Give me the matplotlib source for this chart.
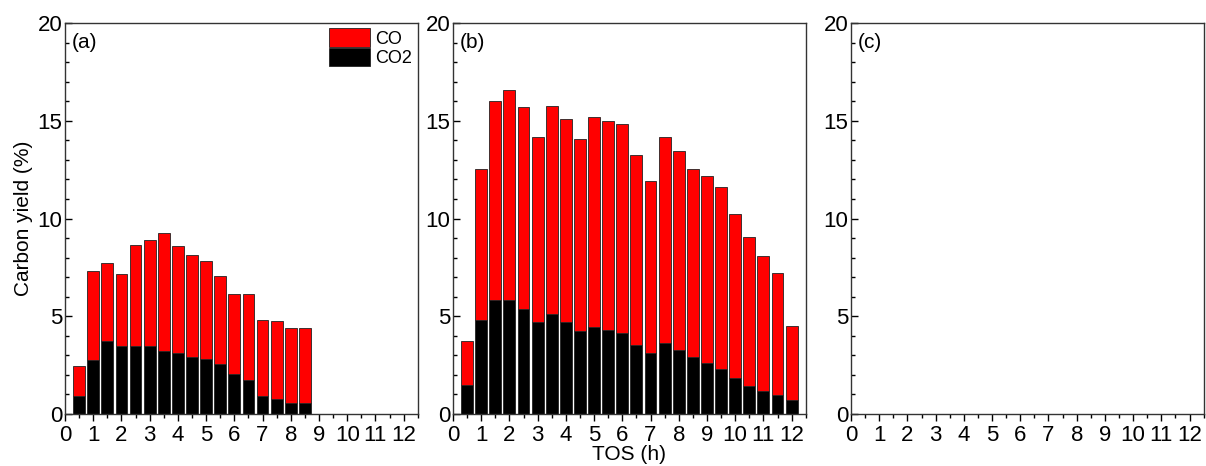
import matplotlib
matplotlib.use("Agg")
import numpy as np
import matplotlib.pyplot as plt
from matplotlib.ticker import MultipleLocator

plt.rcParams['font.family'] = ['Liberation Sans', 'DejaVu Sans']

# TOS (h) for each bar
tos_a = [0.5, 1.0, 1.5, 2.0, 2.5, 3.0, 3.5, 4.0, 4.5, 5.0, 5.5, 6.0, 6.5, 7.0, 7.5, 8.0, 8.5]
co2_a = [0.90, 2.78, 3.72, 3.46, 3.46, 3.46, 3.24, 3.14, 2.93, 2.83, 2.54, 2.03, 1.72, 0.90, 0.77, 0.56, 0.56]
total_a = [2.47, 7.30, 7.71, 7.14, 8.63, 8.92, 9.28, 8.59, 8.15, 7.81, 7.06, 6.12, 6.14, 4.79, 4.74, 4.42, 4.42]

tos_b = [0.5, 1.0, 1.5, 2.0, 2.5, 3.0, 3.5, 4.0, 4.5, 5.0, 5.5, 6.0,
         6.5, 7.0, 7.5, 8.0, 8.5, 9.0, 9.5, 10.0, 10.5, 11.0, 11.5, 12.0]
co2_b = [1.47, 4.79, 5.81, 5.85, 5.37, 4.71, 5.12, 4.71, 4.26, 4.45, 4.28, 4.13,
         3.55, 3.12, 3.61, 3.27, 2.92, 2.59, 2.28, 1.82, 1.45, 1.18, 0.99, 0.73]
total_b = [3.73, 12.53, 16.03, 16.59, 15.69, 14.19, 15.77, 15.09, 14.05, 15.17, 15.00, 14.83,
           13.23, 11.92, 14.15, 13.45, 12.53, 12.16, 11.63, 10.25, 9.04, 8.10, 7.23, 4.48]

# panel (c) is empty in the source figure
tos_c = []
co2_c = []
total_c = []

panels = [("(a)", tos_a, co2_a, total_a),
          ("(b)", tos_b, co2_b, total_b),
          ("(c)", tos_c, co2_c, total_c)]

fig = plt.figure(figsize=(12.06, 4.66), dpi=100)
lefts = [0.0539, 0.3756, 0.7056]
width = 0.2925
axes = []
for left in lefts:
    axes.append(fig.add_axes([left, 0.1116, width, 0.839]))

bar_w = 0.42
for ax, (tag, tos, co2, total) in zip(axes, panels):
    tos = np.array(tos)
    co2 = np.array(co2)
    co = np.array(total) - co2
    if len(tos):
        ax.bar(tos, co2, width=bar_w, color='black', edgecolor='#222222', linewidth=0.6, label='CO2')
        ax.bar(tos, co, width=bar_w, bottom=co2, color='#ff0000', edgecolor='#222222', linewidth=0.6, label='CO')
    ax.set_xlim(0, 12.5)
    ax.set_ylim(0, 20)
    ax.xaxis.set_major_locator(MultipleLocator(1))
    ax.xaxis.set_minor_locator(MultipleLocator(0.5))
    ax.yaxis.set_major_locator(MultipleLocator(5))
    ax.yaxis.set_minor_locator(MultipleLocator(1))
    ax.tick_params(axis='x', which='major', direction='out', length=5, width=1, labelsize=16, pad=3)
    ax.tick_params(axis='x', which='minor', direction='out', length=3, width=1)
    ax.tick_params(axis='y', which='major', direction='in', length=5, width=1, labelsize=16, pad=2)
    ax.tick_params(axis='y', which='minor', direction='in', length=3, width=1)
    for s in ax.spines.values():
        s.set_color('#333333')
        s.set_linewidth(1.0)
    ax.text(0.02, 0.975, tag, transform=ax.transAxes, ha='left', va='top', fontsize=15)

axes[0].set_ylabel('Carbon yield (%)', fontsize=15, labelpad=3)
axes[1].set_xlabel('TOS (h)', fontsize=15, labelpad=-1)

h, l = axes[0].get_legend_handles_labels()
axes[0].legend(h[::-1], l[::-1], loc='upper right', frameon=False, fontsize=13,
               handlelength=2.3, handleheight=1.2, labelspacing=0.0,
               handletextpad=0.3, borderaxespad=0.2, borderpad=0.1)

fig.savefig('out.png', dpi=100)
